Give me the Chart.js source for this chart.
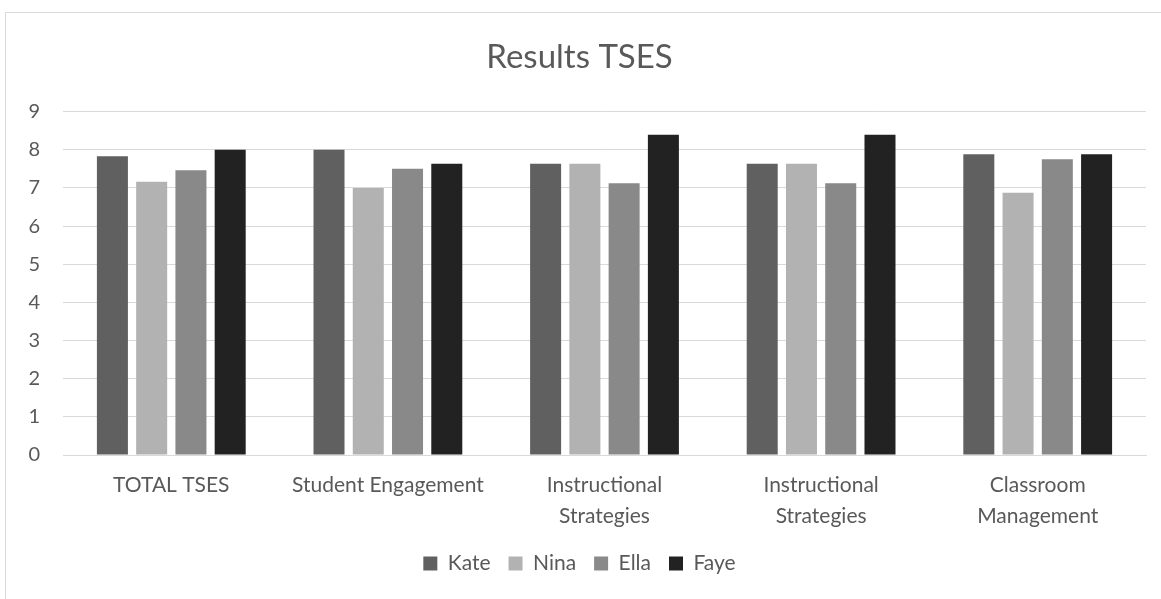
<!DOCTYPE html>
<html>
<head>
<meta charset="utf-8">
<script src="https://cdn.jsdelivr.net/npm/chart.js@4/dist/chart.umd.min.js"></script>
<style>
  html, body { margin: 0; padding: 0; background: #ffffff; overflow: hidden; }
  #moldura {
    position: absolute; left: 5px; top: 12px;
    width: 1170px; height: 600px;
    border: 1px solid #d9d9d9; box-sizing: border-box;
  }
  #grafico { position: absolute; left: 0; top: 0; }
</style>
</head>
<body>
<div id="moldura"></div>
<canvas id="grafico" width="1161" height="599"></canvas>
<script>
/* ── Dados ─────────────────────────────────────── */
const categorias = [
  'TOTAL TSES',
  'Student Engagement',
  ['Instructional', 'Strategies'],
  ['Instructional', 'Strategies'],
  ['Classroom', 'Management']
];
const kate = [7.83, 8.00, 7.63, 7.63, 7.88];
const nina = [7.16, 7.00, 7.63, 7.63, 6.87];
const ella = [7.46, 7.50, 7.12, 7.12, 7.75];
const faye = [8.00, 7.63, 8.39, 8.39, 7.88];
const ticksY = [0, 1, 2, 3, 4, 5, 6, 7, 8, 9];

const corTexto = '#595959';
const corGrade = '#d9d9d9';
const fonte = 'Lato, "Open Sans", sans-serif';

function serie(nome, dados, cor) {
  return {
    label: nome,
    data: dados,
    backgroundColor: cor,
    borderWidth: 0,
    categoryPercentage: 0.725,
    barPercentage: 0.79
  };
}

function criarGraficoTSES() {
  const ctx = document.getElementById('grafico').getContext('2d');
  return new Chart(ctx, {
    type: 'bar',
    data: {
      labels: categorias,
      datasets: [
        serie('Kate', kate, '#606060'),
        serie('Nina', nina, '#b2b2b2'),
        serie('Ella', ella, '#898989'),
        serie('Faye', faye, '#222222')
      ]
    },
    options: {
      responsive: false,
      animation: false,
      layout: { padding: { top: 12, left: 13, right: 15, bottom: 15 } },
      plugins: {
        title: {
          display: true,
          text: 'Results TSES',
          color: corTexto,
          font: { family: fonte, size: 33, weight: 'normal' },
          padding: { top: 26, bottom: 34 }
        },
        legend: {
          position: 'bottom',
          labels: {
            color: corTexto,
            font: { family: fonte, size: 21 },
            boxWidth: 14,
            boxHeight: 14,
            padding: 18
          }
        },
        tooltip: { enabled: false }
      },
      scales: {
        x: {
          grid: { display: false, drawTicks: false },
          border: { color: corGrade, width: 1 },
          ticks: {
            color: corTexto,
            font: { family: fonte, size: 21, lineHeight: 1.5 },
            padding: 14,
            maxRotation: 0,
            autoSkip: false
          },
          afterFit: s => { s.height = 80; }
        },
        y: {
          min: 0,
          max: 9,
          afterBuildTicks: s => { s.ticks = ticksY.map(v => ({ value: v })); },
          grid: { color: corGrade, lineWidth: 1, drawTicks: false },
          border: { display: false },
          ticks: {
            color: corTexto,
            font: { family: fonte, size: 20 },
            padding: 23
          },
          afterFit: s => { s.width = 50; }
        }
      }
    }
  });
}

criarGraficoTSES();
</script>
</body>
</html>
